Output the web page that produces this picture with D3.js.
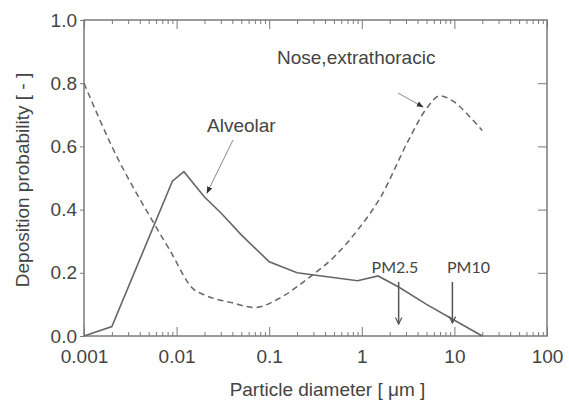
<!DOCTYPE html>
<html>
<head>
<meta charset="UTF-8">
<title>deposition probability</title>
<script src="https://d3js.org/d3.v7.min.js"></script>
<style>
  body { margin: 0; background: #fff; }
  svg text { font-family: "Liberation Sans", Arial, sans-serif; fill: #444; }
  .pm { font-family: Lato, "Open Sans", sans-serif !important; }
</style>
</head>
<body>
<svg id="chart" width="569" height="401"></svg>
<script>
// alveolar deposition (solid)
var alvX = [0.001, 0.002, 0.009, 0.012, 0.02, 0.03, 0.05, 0.1, 0.2, 0.9, 1.5, 2.5, 5, 10, 20];
var alvY = [0.0, 0.03, 0.49, 0.52, 0.44, 0.39, 0.32, 0.235, 0.2, 0.175, 0.19, 0.155, 0.1, 0.05, 0.0];

// nose, extrathoracic (dashed)
var noseX = [0.001, 0.002, 0.006, 0.0085, 0.015, 0.02, 0.04, 0.07, 0.13, 0.27, 0.5, 0.9, 1.6, 3.2, 5, 7, 9.5, 14, 20];
var noseY = [0.8, 0.6, 0.345, 0.27, 0.15, 0.13, 0.105, 0.09, 0.12, 0.185, 0.25, 0.335, 0.44, 0.62, 0.72, 0.76, 0.745, 0.7, 0.65];

var xTicks = [0.001, 0.01, 0.1, 1, 10, 100];
var xTickLabels = ["0.001", "0.01", "0.1", "1", "10", "100"];
var yTicks = [0, 0.2, 0.4, 0.6, 0.8, 1.0];

var svg = d3.select("#chart");
var plotL = 84, plotR = 547, plotT = 20, plotB = 336;

var x = d3.scaleLog().domain([0.001, 100]).range([plotL, plotR]);
var y = d3.scaleLinear().domain([0, 1]).range([plotB, plotT]);

var axisColor = "#7a7a7a";
var lineColor = "#666";

// minor ticks (2..9 in every decade)
var minor = [];
for (var d = 0; d < xTicks.length - 1; d++) {
  for (var k = 2; k <= 9; k++) minor.push(xTicks[d] * k);
}

function styleTicks(g) {
  g.select(".domain").remove();
  g.selectAll("line").attr("stroke", axisColor);
}

// bottom axis, ticks inward
svg.append("g")
  .attr("transform", "translate(0," + plotB + ")")
  .call(d3.axisBottom(x).tickValues(minor).tickSize(-4).tickFormat(""))
  .call(styleTicks);
svg.append("g")
  .attr("transform", "translate(0," + plotB + ")")
  .call(d3.axisBottom(x).tickValues(xTicks).tickSize(-9).tickFormat(function(d, i) { return xTickLabels[i]; }))
  .call(styleTicks)
  .call(function(g) {
    g.selectAll("text").attr("font-size", 19).attr("fill", "#444").attr("dy", 0).attr("y", 27)
      .attr("font-family", "Liberation Sans, Arial, sans-serif");
  });

// top axis, ticks inward
svg.append("g")
  .attr("transform", "translate(0," + plotT + ")")
  .call(d3.axisTop(x).tickValues(minor).tickSize(-4).tickFormat(""))
  .call(styleTicks);
svg.append("g")
  .attr("transform", "translate(0," + plotT + ")")
  .call(d3.axisTop(x).tickValues(xTicks).tickSize(-9).tickFormat(""))
  .call(styleTicks);

// left axis, ticks outward
svg.append("g")
  .attr("transform", "translate(" + plotL + ",0)")
  .call(d3.axisLeft(y).tickValues(yTicks).tickSize(4).tickPadding(3).tickFormat(d3.format(".1f")))
  .call(styleTicks)
  .call(function(g) {
    g.selectAll("text").attr("font-size", 19).attr("fill", "#444")
      .attr("font-family", "Liberation Sans, Arial, sans-serif");
  });

// right axis, ticks inward
svg.append("g")
  .attr("transform", "translate(" + plotR + ",0)")
  .call(d3.axisRight(y).tickValues(yTicks.slice(1, 5)).tickSize(-9).tickFormat(""))
  .call(styleTicks);

// frame
svg.append("rect")
  .attr("x", plotL).attr("y", plotT)
  .attr("width", plotR - plotL).attr("height", plotB - plotT)
  .attr("fill", "none").attr("stroke", axisColor).attr("stroke-width", 1.5);

var line = d3.line().x(function(d) { return x(d[0]); }).y(function(d) { return y(d[1]); });

svg.append("path")
  .datum(d3.zip(noseX, noseY))
  .attr("d", line.curve(d3.curveMonotoneX))
  .attr("fill", "none").attr("stroke", lineColor).attr("stroke-width", 1.5)
  .attr("stroke-dasharray", "6,4");

svg.append("path")
  .datum(d3.zip(alvX, alvY))
  .attr("d", line.curve(d3.curveLinear))
  .attr("fill", "none").attr("stroke", lineColor).attr("stroke-width", 1.6);

// arrow heads
var defs = svg.append("defs");
defs.append("marker").attr("id", "solidHead")
  .attr("viewBox", "0 0 10 10").attr("refX", 9).attr("refY", 5)
  .attr("markerWidth", 7).attr("markerHeight", 7).attr("orient", "auto")
  .append("path").attr("d", "M0,1 L10,5 L0,9 Z").attr("fill", "#333");
defs.append("marker").attr("id", "openHead")
  .attr("viewBox", "0 0 10 10").attr("refX", 9).attr("refY", 5)
  .attr("markerWidth", 8).attr("markerHeight", 8).attr("orient", "auto")
  .attr("markerUnits", "userSpaceOnUse")
  .append("path").attr("d", "M1,1 L9,5 L1,9").attr("fill", "none").attr("stroke", "#555").attr("stroke-width", 1.5);

// labels with leader arrows
svg.append("text").attr("x", 277).attr("y", 64).attr("font-size", 19).text("Nose,extrathoracic");
svg.append("line").attr("x1", 398).attr("y1", 93).attr("x2", 423).attr("y2", 107)
  .attr("stroke", "#888").attr("stroke-width", 1).attr("marker-end", "url(#solidHead)");

svg.append("text").attr("x", 207).attr("y", 132).attr("font-size", 19).text("Alveolar");
svg.append("line").attr("x1", 233).attr("y1", 140).attr("x2", 207).attr("y2", 193)
  .attr("stroke", "#888").attr("stroke-width", 1).attr("marker-end", "url(#solidHead)");

// PM markers
svg.append("text").attr("class", "pm").attr("x", 395).attr("y", 273).attr("text-anchor", "middle")
  .attr("font-size", 16).text("PM2.5");
svg.append("line").attr("x1", x(2.5)).attr("y1", 282).attr("x2", x(2.5)).attr("y2", 324)
  .attr("stroke", "#555").attr("stroke-width", 1.5).attr("marker-end", "url(#openHead)");

svg.append("text").attr("class", "pm").attr("x", 447).attr("y", 273)
  .attr("font-size", 16).text("PM10");
svg.append("line").attr("x1", x(10) - 2).attr("y1", 282).attr("x2", x(10) - 2).attr("y2", 323)
  .attr("stroke", "#555").attr("stroke-width", 1.5).attr("marker-end", "url(#openHead)");

// axis titles
svg.append("text").attr("x", (plotL + plotR) / 2 + 12).attr("y", 396).attr("text-anchor", "middle")
  .attr("font-size", 19).text("Particle diameter [ \u03bcm ]");
svg.append("text").attr("transform", "translate(29,180) rotate(-90)").attr("text-anchor", "middle")
  .attr("font-size", 19).text("Deposition probability [ - ]");
</script>
</body>
</html>
